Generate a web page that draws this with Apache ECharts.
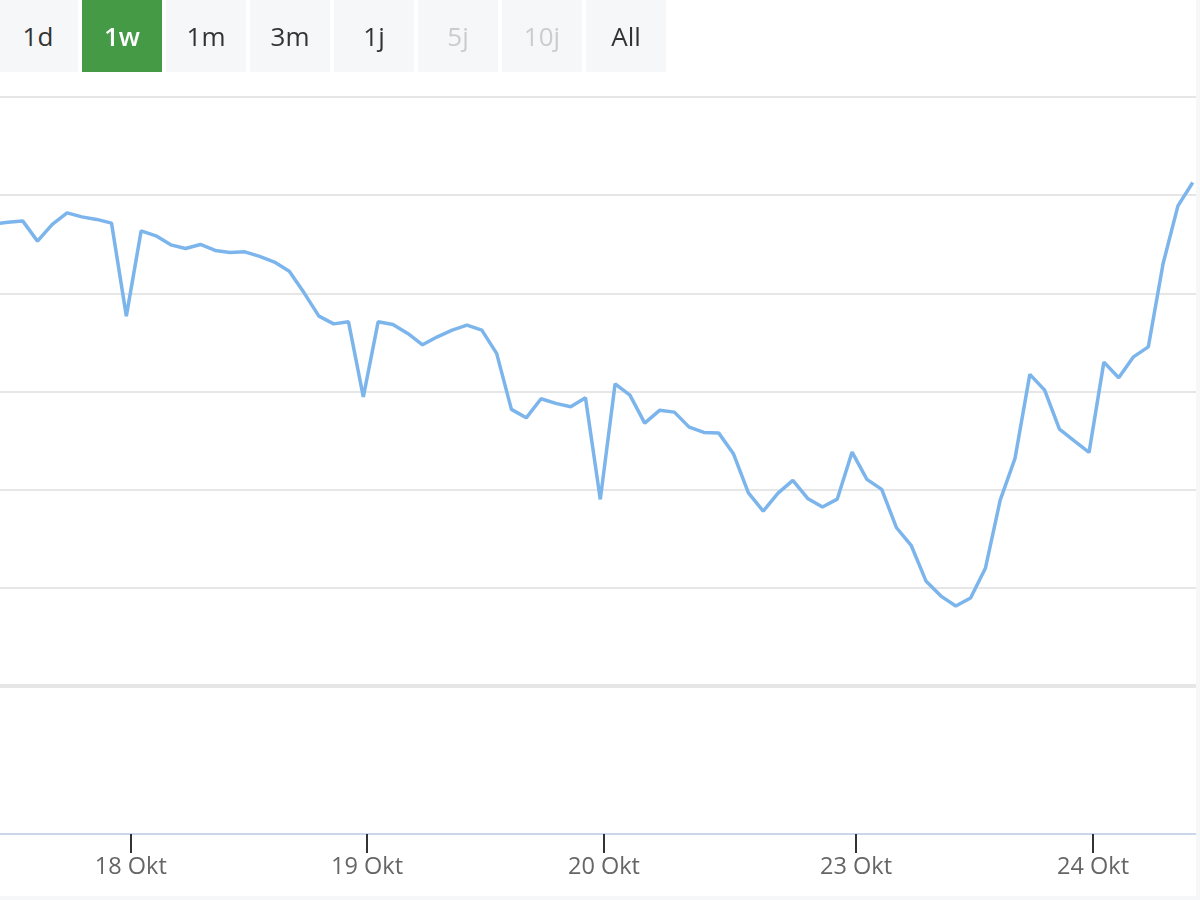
<!DOCTYPE html>
<html>
<head>
<meta charset="utf-8">
<script src="https://cdn.jsdelivr.net/npm/echarts@6/dist/echarts.min.js"></script>
<style>
  html, body { margin: 0; padding: 0; background: #f6f7f9; }
  #wrap { position: absolute; left: 0; top: 0; width: 1196px; height: 896px; background: #fff; }
  #chart { position: absolute; left: 0; top: 0; width: 1196px; height: 896px; }
  #ranges { position: absolute; left: 0; top: 0; height: 72px; z-index: 2; }
  .rbtn {
    position: absolute; top: 0; width: 80px; height: 72px; line-height: 72px;
    text-align: center; background: #f6f7f9; color: #333;
    font-family: "Open Sans", "Noto Sans", sans-serif; font-size: 26px;
  }
  .rbtn.on { background: #449a45; color: #fff; font-weight: 600; }
  .rbtn.off { color: #cccccc; }
</style>
</head>
<body>
<div id="wrap">
  <div id="chart"></div>
  <div id="ranges"></div>
</div>
<script>
// range selector buttons
const rangeButtons = ["1d", "1w", "1m", "3m", "1j", "5j", "10j", "All"];
const rangeSelected = "1w";
const rangeDisabled = ["5j", "10j"];

// prices, one per slot (ordinal axis, gaps removed); first two slots sit left of the view
const prices = [
  47.05, 47.25,
  47.38, 45.32, 47.02, 48.20, 47.79, 47.53, 47.15, 37.68,
  46.36, 45.86, 44.94, 44.57, 44.98, 44.37, 44.16, 44.23,
  43.76, 43.18, 42.26, 40.05, 37.68, 36.89, 37.10, 29.46,
  37.10, 36.83, 35.92, 34.76, 35.57, 36.25, 36.76, 36.25,
  33.88, 28.18, 27.32, 29.26, 28.79, 28.44, 29.36, 19.01,
  30.78, 29.63, 26.78, 28.08, 27.90, 26.37, 25.83, 25.76,
  23.63, 19.68, 17.82, 19.65, 20.95, 19.11, 18.23, 19.04,
  23.83, 21.05, 20.03, 16.12, 14.29, 10.66, 9.16, 8.15,
  8.96, 11.99, 18.94, 23.19, 31.74, 30.14, 26.17, 24.98,
  23.80, 32.99, 31.40, 33.53, 34.55, 43.04, 48.91, 51.29
];

// day ticks (slot position) and their labels
const tickPos = [9.3, 25.25, 41.25, 58.27, 74.27];
const tickLabels = ["18 Okt", "19 Okt", "20 Okt", "23 Okt", "24 Okt"];

const xMin = 0.47;
const xMax = 81.22;

const btnBox = document.getElementById("ranges");
rangeButtons.forEach((b, i) => {
  const d = document.createElement("div");
  d.className = "rbtn" + (b === rangeSelected ? " on" : "") + (rangeDisabled.includes(b) ? " off" : "");
  d.style.left = (-2 + i * 84) + "px";
  d.textContent = b;
  btnBox.appendChild(d);
});

const chart = echarts.init(document.getElementById("chart"));

function labelFor(v) {
  let best = 0;
  tickPos.forEach((p, i) => { if (Math.abs(p - v) < Math.abs(tickPos[best] - v)) best = i; });
  return tickLabels[best];
}

const option = {
  animation: false,
  backgroundColor: "#fff",
  grid: [
    { left: 0, right: 0, top: 97, height: 589 },
    { left: 0, right: 0, top: 688, height: 146 }
  ],
  xAxis: [
    {
      type: "value", gridIndex: 0, min: xMin, max: xMax,
      axisLine: { show: true, onZero: false, lineStyle: { color: "#e6e6e6", width: 4 } },
      axisTick: { show: false }, axisLabel: { show: false }, splitLine: { show: false }
    },
    {
      type: "value", gridIndex: 1, min: xMin, max: xMax,
      axisLine: { show: true, onZero: false, lineStyle: { color: "#ccd6eb", width: 2 } },
      axisTick: { show: true, length: 19, customValues: tickPos, lineStyle: { color: "#333", width: 2 } },
      axisLabel: {
        show: true, customValues: tickPos, margin: 21,
        color: "#666", fontSize: 23.5, fontFamily: "Open Sans",
        formatter: v => labelFor(v)
      },
      splitLine: { show: false }
    }
  ],
  yAxis: [
    {
      type: "value", gridIndex: 0, min: 0, max: 60, interval: 10,
      axisLine: { show: false }, axisTick: { show: false }, axisLabel: { show: false },
      splitLine: { show: true, lineStyle: { color: "#e6e6e6", width: 2 } }
    },
    {
      type: "value", gridIndex: 1, min: 0, max: 1,
      axisLine: { show: false }, axisTick: { show: false }, axisLabel: { show: false },
      splitLine: { show: false }
    }
  ],
  series: [{
    type: "line",
    xAxisIndex: 0, yAxisIndex: 0,
    data: prices.map((v, i) => [i, v]),
    showSymbol: false,
    clip: true,
    lineStyle: { color: "#7cb5ec", width: 3.5 },
    itemStyle: { color: "#7cb5ec" }
  }]
};
chart.setOption(option);
</script>
</body>
</html>
